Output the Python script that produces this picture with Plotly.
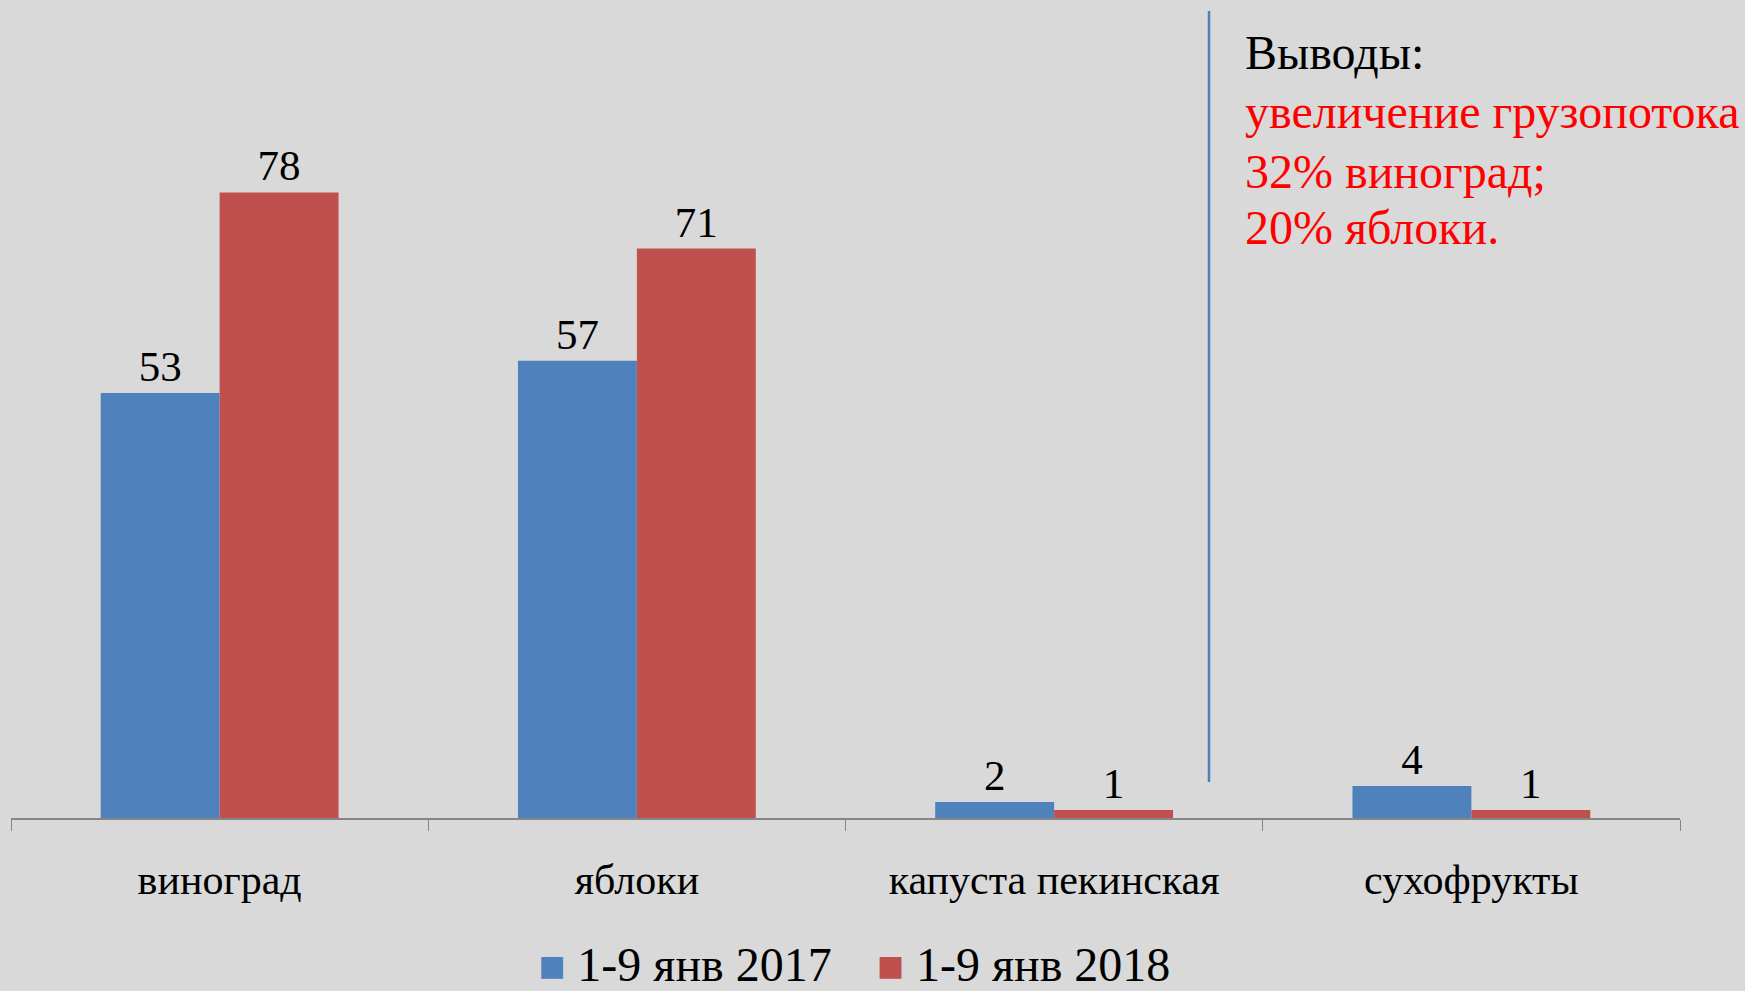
import plotly.graph_objects as go

categories = ["виноград", "яблоки", "капуста пекинская", "сухофрукты"]
series_names = ["1-9 янв 2017", "1-9 янв 2018"]
values_2017 = [53, 57, 2, 4]
values_2018 = [78, 71, 1, 1]
colors = ["#4F81BD", "#C0504D"]
notes_title = "Выводы:"
notes_lines = ["увеличение грузопотока", "32% виноград;", "20% яблоки."]

FONT = "Liberation Serif, Times New Roman, serif"

fig = go.Figure()
for name, vals, col in zip(series_names, [values_2017, values_2018], colors):
    fig.add_trace(go.Bar(
        x=categories, y=vals, name=name, marker_color=col, marker_line_width=0,
        text=[str(v) for v in vals], textposition="outside", cliponaxis=False,
        textfont=dict(family=FONT, size=43, color="black"), showlegend=False,
    ))
# legend entries: coloured square glyph + label (real symbol hidden)
for name, col in zip(series_names, colors):
    fig.add_trace(go.Scatter(
        x=[None], y=[None], mode="markers",
        name=f"<span style='color:{col};font-size:45px'>■</span> {name}",
        marker=dict(symbol="square", size=1, color="rgba(0,0,0,0)",
                    line=dict(width=0, color="rgba(0,0,0,0)")),
        showlegend=True,
    ))

fig.update_layout(
    width=1745, height=991,
    paper_bgcolor="#D9D9D9", plot_bgcolor="#D9D9D9",
    margin=dict(l=11, r=65, t=16, b=173),
    barmode="group", bargap=0.43, bargroupgap=0,
    font=dict(family=FONT, color="black"),
    showlegend=True,
    legend=dict(orientation="h", x=0.495, xanchor="center", yref="container", y=0.029,
                yanchor="middle", font=dict(family=FONT, size=48, color="black"),
                itemwidth=30, traceorder="normal", bgcolor="rgba(0,0,0,0)"),
    xaxis=dict(showline=True, linecolor="#868686", linewidth=2, ticks="outside",
               tickson="boundaries", ticklen=11, tickcolor="#868686", tickwidth=1,
               tickfont=dict(family=FONT, size=42, color="black"),
               ticklabelstandoff=24, showgrid=False),
    yaxis=dict(range=[0, 100], visible=False, showgrid=False, zeroline=False),
)

fig.add_shape(type="line", xref="paper", yref="paper",
              x0=(1209 - 11) / 1669, x1=(1209 - 11) / 1669,
              y0=(818 - 782) / 802, y1=(818 - 11) / 802,
              line=dict(color="#4F81BD", width=2.5))

line_centers = [53, 112, 171, 227]
texts = [notes_title] + notes_lines
text_colors = ["black"] + ["#FF0000"] * len(notes_lines)
for t, c, yc in zip(texts, text_colors, line_centers):
    fig.add_annotation(
        xref="paper", yref="paper", x=(1243 - 11) / 1669, y=(818 - yc) / 802,
        xanchor="left", yanchor="middle", align="left", showarrow=False,
        text=t, font=dict(family=FONT, size=48, color=c),
    )

fig.write_html("out.html", config={"displayModeBar": False},
               post_script="document.body.style.margin='0';document.body.style.background='#D9D9D9';")
